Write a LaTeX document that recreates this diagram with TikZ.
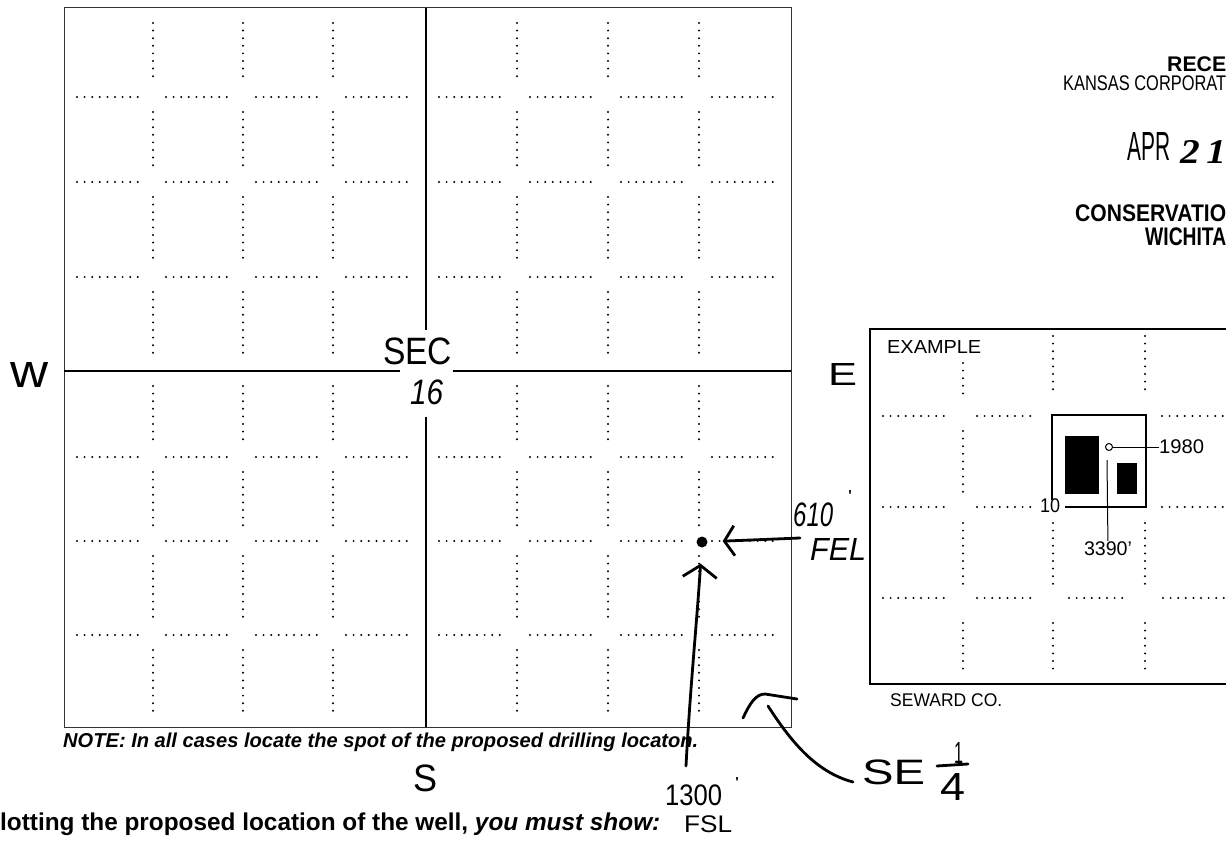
\documentclass[tikz,border=0pt]{standalone}
\usepackage{fontspec}
\setmainfont{Liberation Sans}
\newfontfamily\hand{Liberation Sans}
\newfontfamily\stampserif{Liberation Serif}
\usetikzlibrary{arrows.meta}
\newcommand{\fitto}[3]{\resizebox*{#1}{#2}{#3}}
\begin{document}
\begin{tikzpicture}[x=1pt,y=-1pt,
  gdot/.style={line width=2.2pt, line cap=round, dash pattern=on 0pt off 7.6pt},
  frame/.style={line width=1pt, black!80},
  axis/.style={line width=1.3pt},
  txt/.style={inner sep=0pt, anchor=north west},
  pen/.style={line width=2.8pt, line cap=round, line join=round},
  thin/.style={line width=1pt}]
\useasboundingbox (0,0) rectangle (1226,842);
\fill[white] (0,0) rectangle (1226,842);

% ---------- main section grid ----------
\draw[frame] (64,8) rectangle (791,727);
\draw[axis] (426,8) -- (426,330);
\draw[axis] (426,417) -- (426,727);
\draw[axis] (64,371) -- (400,371);
\draw[axis] (453,371) -- (791,371);
\foreach \x in {153,243,333,517,608,699}
  \foreach \a/\b in {8/97,97/182,182/277,277/371,371/457,457/541,541/635,635/727}
    \draw[gdot] (\x,\a+15) -- (\x,\b-15);
\foreach \y in {97,182,277,457,541,635}
  \foreach \a/\b in {64/153,153/243,243/333,333/426,426/517,517/608,608/699,699/791}
    \draw[gdot] (\a+13,\y) -- (\b-15,\y);

% ---------- example grid ----------
\draw[line width=1.5pt] (1226,329) -- (870,329) -- (870,684) -- (1226,684);
\draw[gdot] (963,363) -- (963,395);
\foreach \x in {1053,1145} \draw[gdot] (\x,336) -- (\x,396);
\draw[gdot] (963,431) -- (963,493);
\foreach \x in {963,1053,1145} {
  \draw[gdot] (\x,523) -- (\x,587);
  \draw[gdot] (\x,623) -- (\x,675);
}
\foreach \y in {416,507} {
  \draw[gdot] (883,\y) -- (947,\y);
  \draw[gdot] (977,\y) -- (1033,\y);
  \draw[gdot] (1162,\y) -- (1226,\y);
}
\draw[gdot] (883,598) -- (947,598);
\draw[gdot] (977,598) -- (1032,598);
\draw[gdot] (1069,598) -- (1125,598);
\draw[gdot] (1163,598) -- (1226,598);

\draw[line width=2.2pt] (1052,500) -- (1052,415) -- (1146,415) -- (1146,507) -- (1065,507);
\fill (1065,436) rectangle (1099,494);
\fill (1117,463) rectangle (1137,494);
\node[circle, draw, thin, inner sep=0pt, minimum size=7pt] (wellex) at (1109,447) {};
\node[inner sep=0pt, anchor=west] (l1980) at (1159,447) {\fitto{45pt}{14pt}{1980}};
\draw[thin] (wellex) -- (l1980);
\node[inner sep=0pt, anchor=north] (l3390) at (1108,541) {\fitto{48pt}{14pt}{3390'}};
\coordinate (c3390) at (1107,460);
\draw[thin] (c3390) -- (l3390);
\node[txt] (l10) at (1040,498) {\fitto{20pt}{14pt}{10}};
\node[txt] (example) at (887,340) {\fitto{94pt}{13pt}{EXAMPLE}};
\node[txt] (seward) at (890,693) {\fitto{112pt}{13pt}{SEWARD CO.}};

% ---------- stamp ----------
\node[txt] (rece) at (1167,57) {\fitto{59pt}{15pt}{\bfseries RECE}};
\node[txt] (kcc) at (1063,76) {\fitto{163pt}{15pt}{KANSAS CORPORAT}};
\node[txt] (apr) at (1127,132) {\fitto{43pt}{28pt}{APR}};
\node[txt] (day) at (1180,140) {\fitto{46pt}{23pt}{\stampserif\bfseries\itshape 2\,1}};
\node[txt] (cons) at (1075,205) {\fitto{151pt}{17pt}{\bfseries CONSERVATIO}};
\node[txt] (wich) at (1145,228) {\fitto{81pt}{18pt}{\bfseries WICHITA}};

% ---------- printed notes ----------
\node[txt] (note) at (63,733) {\resizebox{635pt}{!}{\bfseries\itshape NOTE: In all cases locate the spot of the proposed drilling locaton.}};
\node[txt] (plot) at (0,813) {\resizebox{660pt}{!}{\bfseries lotting the proposed location of the well, \textit{you must show:}}};

% ---------- handwriting ----------
\node[txt] (sec) at (383,338) {\fitto{69pt}{27pt}{\hand SEC}};
\node[txt] (n16) at (410,380) {\fitto{33pt}{25pt}{\hand\itshape 16}};
\node[txt] (hw) at (10,362) {\fitto{38pt}{25pt}{\hand w}};
\node[txt] (he) at (828,363) {\fitto{29pt}{22pt}{\hand E}};
\node[txt] (hs) at (413,765) {\fitto{24pt}{27pt}{\hand S}};
\node[txt] (h610) at (793,503) {\fitto{40pt}{24pt}{\hand\itshape 610}};
\node[txt] (p610) at (848,490) {\fitto{4pt}{12pt}{\hand '}};
\node[txt] (fel) at (810,538) {\fitto{56pt}{22pt}{\hand\itshape FEL}};
\node[txt] (h1300) at (665,785) {\fitto{57pt}{21pt}{\hand 1300}};
\node[txt] (p1300) at (735,777) {\fitto{4pt}{11pt}{\hand '}};
\node[txt] (fsl) at (684,816) {\fitto{48pt}{17pt}{\hand FSL}};
\node[txt] (se) at (862,760) {\fitto{63pt}{25pt}{\hand SE}};
\node[txt] (one) at (954,742) {\fitto{9pt}{21pt}{\hand 1}};
\node[txt] (four) at (940,773) {\fitto{25pt}{27pt}{\hand 4}};
\draw[pen] (937,766) -- (968,764);

% ---------- well spot and arrows ----------
\node[circle, fill, inner sep=0pt, minimum size=11pt] (well) at (702,542) {};
\coordinate (a610) at (800,538);
\draw[pen, -{Straight Barb[length=10pt,width=30pt]}, shorten >=15pt] (a610) -- (well);
\coordinate (a1300) at (686,766);
\draw[pen, -{Straight Barb[length=12pt,width=34pt]}, shorten >=16pt] (a1300) .. controls (690,690) and (697,620) .. (well);
\coordinate (ase) at (853,782);
\coordinate (sehead) at (768,706);
\draw[pen] (ase) .. controls (815,772) and (790,740) .. (sehead);
\draw[pen] (743,718) .. controls (750,703) and (756,694) .. (765,694) -- (797,699);
\end{tikzpicture}
\end{document}
